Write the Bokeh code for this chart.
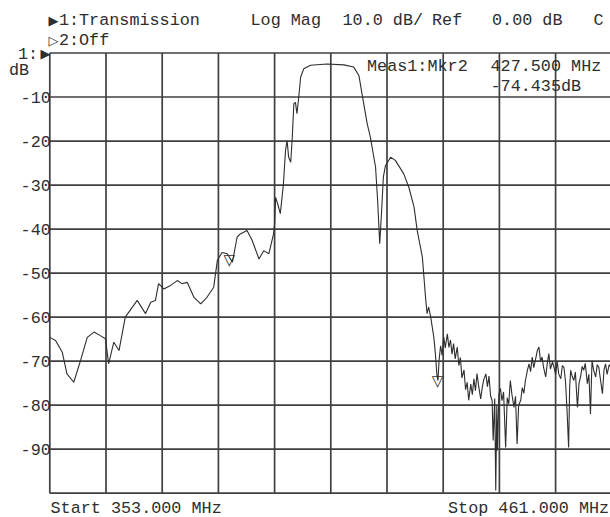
from bokeh.plotting import figure
from bokeh.models import Label, ColumnDataSource
from bokeh.core.properties import value
from bokeh.embed import file_html
from bokeh.resources import INLINE

# ---------------- data ----------------
FREQ_START = 353.0
FREQ_STOP = 461.0
REF_TOP = 0.0
REF_BOTTOM = -100.0
DIVISIONS = 10

freq_mhz = [
    353.0, 354.1, 355.4, 356.3, 357.6, 358.9, 360.2, 361.5, 362.7, 363.7,
    364.3, 365.3, 366.3, 367.5, 369.8, 371.4, 372.4, 373.3, 373.9, 374.9,
    376.2, 377.5, 378.4, 379.4, 380.7, 382.0, 383.2, 384.5, 385.2, 386.1,
    387.1, 388.1, 389.0, 389.6, 390.9, 391.9, 393.2, 394.1, 395.1, 396.0,
    396.2, 396.4, 396.8, 397.3, 397.9, 398.3, 398.6, 398.9, 399.3, 399.6,
    399.9, 400.2, 400.5, 400.9, 401.2, 401.8, 403.1, 406.3, 409.5, 411.4,
    412.4, 413.0, 414.0, 414.6, 415.6, 416.0, 416.4, 416.7, 417.1, 417.5,
    418.5, 419.4, 421.0, 422.0, 423.0, 423.6, 424.6, 424.9, 425.2, 425.5,
    425.8, 426.2, 426.8, 427.1, 427.4, 427.6,
    427.8, 428.1, 428.4, 428.7, 429.0, 429.4, 429.7, 430.0, 430.3, 430.6,
    430.9, 431.3, 431.6, 431.9, 432.2, 432.6, 432.9, 433.2, 433.5, 433.9,
    434.2, 434.5, 434.8, 435.1, 435.4, 435.8, 436.1, 436.4, 436.8, 437.1,
    437.4, 437.7, 438.0, 438.2, 438.5, 438.7, 438.9, 439.0, 439.3, 439.6,
    439.9, 440.2, 440.6, 440.9, 441.2, 441.5, 441.8, 442.2, 442.5, 442.8,
    443.1, 443.5, 443.8, 444.1, 444.4, 444.8, 445.1, 445.4, 445.7, 446.0,
    446.3, 446.7, 447.0, 447.3, 447.6, 447.9, 448.3, 448.6, 448.9, 449.2,
    449.6, 449.9, 450.2, 450.5, 450.8, 451.2, 451.5, 451.8, 452.1, 452.4,
    452.7, 452.9, 453.1, 453.4, 453.7, 454.0, 454.4, 454.7, 455.0, 455.3,
    455.6, 455.9, 456.3, 456.6, 456.9, 457.2, 457.5, 457.9, 458.2, 458.5,
    458.8, 459.2, 459.5, 459.8, 460.1, 460.5, 460.8,
]

transmission_db = [
    -64.6, -65.3, -68.0, -72.9, -74.8, -69.9, -64.6, -63.4, -64.2, -64.9,
    -70.6, -65.7, -67.6, -60.0, -56.2, -59.2, -56.6, -56.2, -52.4, -53.6,
    -52.8, -51.7, -52.4, -52.1, -55.5, -57.0, -55.5, -53.2, -47.1, -45.3,
    -45.6, -47.5, -41.8, -41.1, -40.3, -42.6, -46.8, -44.9, -45.6, -41.1,
    -38.8, -32.8, -34.3, -36.5, -29.7, -22.1, -19.9, -23.7, -24.8, -19.1,
    -11.5, -11.2, -13.8, -9.3, -5.5, -3.6, -2.8, -2.5, -2.7, -3.2,
    -5.1, -9.3, -16.1, -19.1, -25.9, -33.5, -43.3, -37.3, -28.2, -25.6,
    -23.7, -24.4, -27.4, -30.5, -35.0, -40.3, -46.4, -50.9, -55.5, -59.2,
    -57.7, -60.0, -64.6, -68.3, -73.3, -74.4,
    -69.9, -66.5, -68.7, -64.5, -67.0, -63.8, -66.9, -65.2, -68.4, -66.0,
    -69.5, -66.8, -71.0, -69.2, -73.8, -72.0, -76.5, -74.8, -78.9, -75.2,
    -77.6, -74.0, -76.7, -72.8, -75.5, -78.6, -76.0, -74.2, -72.9, -75.8,
    -73.4, -77.8, -79.0, -88.0, -78.5, -99.4, -80.0, -90.3, -77.5, -76.2,
    -79.0, -77.0, -89.6, -78.3, -79.7, -74.4, -77.5, -80.5, -78.0, -88.8,
    -80.0, -78.9, -76.0, -77.3, -74.4, -72.0, -70.6, -72.4, -69.1, -71.5,
    -69.9, -67.5, -66.8, -70.0, -69.1, -71.5, -73.6, -70.5, -68.3, -71.8,
    -70.2, -71.4, -73.0, -70.0, -72.9, -74.0, -71.0, -71.4, -74.5, -81.2,
    -89.6, -76.0, -72.1, -73.5, -74.4, -72.5, -80.5, -75.0, -73.6, -71.2,
    -72.1, -70.5, -75.1, -73.0, -82.0, -69.9, -72.0, -73.6, -70.8, -71.4,
    -74.0, -77.4, -72.0, -70.6, -73.0, -70.8, -71.4,
]

marker_freq = [387.5, 427.5]
marker_db = [-47.0, -74.435]

y_ticks = [-10, -20, -30, -40, -50, -60, -70, -80, -90]
y_tick_labels = ["-10", "-20", "-30", "-40", "-50", "-60", "-70", "-80", "-90"]

header_tokens = ["1:Transmission", "Log Mag", "10.0 dB/", "Ref", "0.00 dB", "C"]
channel2_text = "2:Off"
meas_line1 = ["Meas1:Mkr2", "427.500 MHz"]
meas_line2 = "-74.435dB"
start_text = "Start 353.000 MHz"
stop_text = "Stop 461.000 MHz"

# ---------------- layout (canvas pixels) ----------------
W, H = 610, 517
GRID_LEFT, GRID_TOP, GRID_BOTTOM = 49.3, 52.5, 492.7
PX_PER_MHZ = 562.0 / (FREQ_STOP - FREQ_START)
PX_PER_DB = (GRID_BOTTOM - GRID_TOP) / (REF_TOP - REF_BOTTOM)

x_lo = FREQ_START - GRID_LEFT / PX_PER_MHZ
x_hi = FREQ_START + (W - GRID_LEFT) / PX_PER_MHZ
y_hi = REF_TOP + GRID_TOP / PX_PER_DB
y_lo = REF_TOP - (H - GRID_TOP) / PX_PER_DB

INK = "#2e2e2e"
GRID = "#404040"
FONT = "Liberation Mono"
FS = "16.8px"

p = figure(width=W, height=H, output_backend="svg", toolbar_location=None,
           x_range=(x_lo, x_hi), y_range=(y_lo, y_hi),
           x_axis_location=None, y_axis_location=None,
           min_border=0)
p.outline_line_color = None
p.grid.visible = False
p.background_fill_color = "white"
p.border_fill_color = "white"

# graticule
step_f = (FREQ_STOP - FREQ_START) / DIVISIONS
step_db = (REF_TOP - REF_BOTTOM) / DIVISIONS
vx = [FREQ_START + k * step_f for k in range(DIVISIONS + 1)]
hy = [REF_TOP - k * step_db for k in range(DIVISIONS + 1)]
grid_src = ColumnDataSource(dict(
    x0=vx + [FREQ_START] * len(hy),
    y0=[REF_TOP] * len(vx) + hy,
    x1=vx + [FREQ_STOP] * len(hy),
    y1=[REF_BOTTOM] * len(vx) + hy,
))
p.segment("x0", "y0", "x1", "y1", source=grid_src, line_color=GRID, line_width=1.7)

# trace
src = ColumnDataSource(dict(f=freq_mhz, db=transmission_db))
p.line("f", "db", source=src, line_color=INK, line_width=1.1)

# markers
msrc = ColumnDataSource(dict(f=marker_freq, db=marker_db, t=["\u25bd"] * len(marker_freq)))
p.text("f", "db", text="t", source=msrc, text_align="center", text_baseline="alphabetic",
       text_font=value("DejaVu Sans"), text_font_size="15px", text_color=INK)

# y tick labels
tsrc = ColumnDataSource(dict(x=[FREQ_START] * len(y_ticks), y=y_ticks, t=y_tick_labels))
p.text("x", "y", text="t", source=tsrc, text_align="right", text_baseline="middle",
       text_font=value(FONT), text_font_size=FS, text_color=INK, x_offset=1)


def dx(xp):
    return FREQ_START + (xp - GRID_LEFT) / PX_PER_MHZ


def dy(yp):
    return REF_TOP - (yp - GRID_TOP) / PX_PER_DB


def lab(text, xp, yp, align="left", font=FONT, size=FS):
    p.add_layout(Label(x=dx(xp), y=dy(yp), text=text, text_font=font,
                       text_font_size=size, text_color=INK, text_align=align,
                       text_baseline="middle"))


# header line 1
lab("\u25b6", 48, 19.5, font="DejaVu Sans", size="13px")
for tok, xp in zip(header_tokens, [58.4, 250, 342, 431.5, 491.5, 593]):
    lab(tok, xp, 19.5)
# header line 2
lab("\u25b7", 48, 39.5, font="DejaVu Sans", size="13px")
lab(channel2_text, 58.4, 39.5)
# reference level marker
lab("1:", 17.5, 53.5)
lab("\u25b6", 50, 53, align="right", font="DejaVu Sans", size="13px")
lab("dB", 8.5, 69.5)
# marker readout
lab(meas_line1[0], 366.5, 66)
lab(meas_line1[1], 490, 66)
lab(meas_line2, 490, 85.5)
# start / stop
lab(start_text, 50, 508)
lab(stop_text, 447.5, 508)

open("out.html", "w").write(file_html(p, INLINE))
